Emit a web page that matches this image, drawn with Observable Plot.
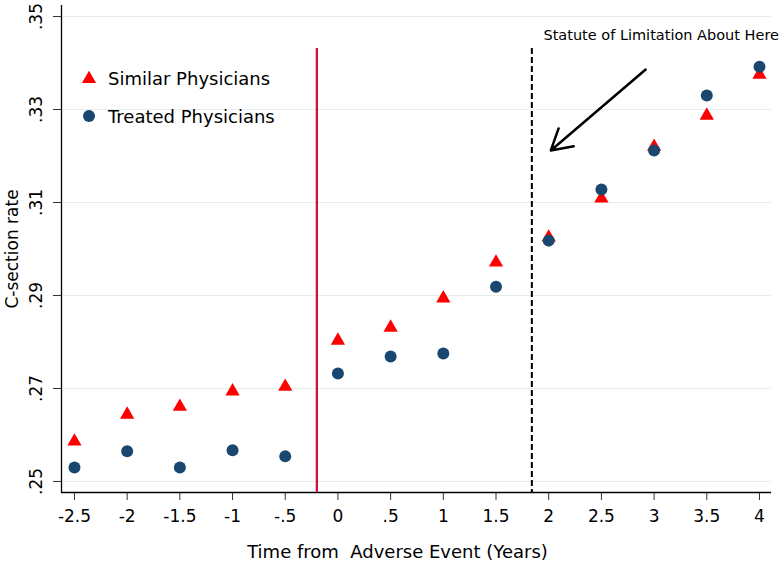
<!DOCTYPE html>
<html>
<head>
<meta charset="utf-8">
<script src="https://cdn.jsdelivr.net/npm/d3@7"></script>
<script src="https://cdn.jsdelivr.net/npm/@observablehq/plot@0.6"></script>
<style>
  html, body { margin: 0; padding: 0; background: #fff; }
  #wrap { position: relative; width: 780px; height: 567px; font-family: "DejaVu Sans", sans-serif; }
  #legend { position: absolute; left: 78px; top: 59px; font-size: 18px; color: #000; }
  #legend .item { display: flex; align-items: center; height: 38px; }
  #legend svg { margin-right: 8px; }
</style>
</head>
<body>
<div id="wrap">
  <div id="chart"></div>
  <div id="legend"></div>
</div>
<script>
// ---- data ----
const years = [-2.5, -2, -1.5, -1, -0.5, 0, 0.5, 1, 1.5, 2, 2.5, 3, 3.5, 4];
const similar = [0.2586, 0.2644, 0.2661, 0.2694, 0.2704, 0.2803, 0.2831, 0.2894, 0.2971, 0.3025, 0.3109, 0.3220, 0.3287, 0.3375];
const treated = [0.2530, 0.2565, 0.2530, 0.2567, 0.2554, 0.2732, 0.2769, 0.2775, 0.2919, 0.3018, 0.3128, 0.3212, 0.3330, 0.3392];
const seriesNames = ["Similar Physicians", "Treated Physicians"];
const xTicks = [-2.5, -2, -1.5, -1, -0.5, 0, 0.5, 1, 1.5, 2, 2.5, 3, 3.5, 4];
const yTicks = [0.25, 0.27, 0.29, 0.31, 0.33, 0.35];
const xLabel = "Time from  Adverse Event (Years)";
const yLabel = "C-section rate";
const eventLine = [-0.2];
const statuteLine = [1.84];
const annotationText = ["Statute of Limitation About Here"];
const annotationAt = [{x: 1.95, y: 0.3459}];
const arrowFrom = [{x: 2.92, y: 0.3386}];
const arrowTo = [{x: 2.02, y: 0.3212}];

const simData = years.map((x, i) => ({x, y: similar[i]}));
const trtData = years.map((x, i) => ({x, y: treated[i]}));
const arrowData = arrowFrom.map((a, i) => ({x1: a.x, y1: a.y, x2: arrowTo[i].x, y2: arrowTo[i].y}));

const fmt = d => {
  let s = String(+d.toFixed(2));
  return s.replace(/^0\./, ".").replace(/^-0\./, "-.");
};

const xDomain = [-2.623, 4.114];
const yDomain = [0.24763, 0.35237];
const lineTop = 0.3431;

const RED = "#ff0000";
const NAVY = "#1a476f";
const FONT = "DejaVu Sans, sans-serif";

const chart = Plot.plot({
  width: 780,
  height: 567,
  marginLeft: 61,
  marginRight: 9,
  marginTop: 5,
  marginBottom: 75,
  style: {fontFamily: FONT, background: "#fff", fontSize: "17px"},
  x: {domain: xDomain},
  y: {domain: yDomain},
  marks: [
    Plot.gridY(yTicks, {stroke: "#e4eeee", strokeOpacity: 1, strokeWidth: 1.2}),
    Plot.axisX(xTicks, {tickFormat: fmt, tickSize: 8, tickPadding: 9, fontSize: 17, stroke: "#333", label: null, color: "#000"}),
    Plot.text([xLabel], {frameAnchor: "bottom", text: d => d, dx: -19, dy: 65, fontSize: 18, fill: "#000"}),
    Plot.axisY(yTicks, {tickFormat: fmt, tickSize: 8, tickRotate: -90, tickPadding: 12, fontSize: 17, stroke: "#333", label: yLabel, labelAnchor: "center", labelArrow: "none", labelOffset: 56, color: "#000"}),
    Plot.ruleX([xDomain[0]], {stroke: "#000", strokeWidth: 1.3}),
    Plot.ruleY([yDomain[0]], {stroke: "#000", strokeWidth: 1.3}),
    Plot.ruleX(eventLine, {y1: lineTop, y2: yDomain[0], stroke: "#d0103c", strokeWidth: 2.3}),
    Plot.ruleX(statuteLine, {y1: lineTop, y2: yDomain[0], stroke: "#000", strokeWidth: 2, strokeDasharray: "6,3"}),
    Plot.dot(simData, {x: "x", y: "y", symbol: "triangle", r: 5.3, fill: RED, stroke: "none"}),
    Plot.dot(trtData, {x: "x", y: "y", symbol: "circle", r: 6, fill: NAVY, stroke: "none"}),
    Plot.text(annotationText, {x: annotationAt.map(d => d.x), y: annotationAt.map(d => d.y), text: d => d, textAnchor: "start", fontSize: 14.5, fill: "#000"}),
    Plot.arrow(arrowData, {x1: "x1", y1: "y1", x2: "x2", y2: "y2", stroke: "#000", strokeWidth: 2.5, headLength: 14})
  ]
});
document.getElementById("chart").appendChild(chart);

// legend
const legend = document.getElementById("legend");
const sym = [
  `<svg width="22" height="22"><path d="${d3.symbol(d3.symbolTriangle, Math.PI * 5.3 * 5.3)()}" transform="translate(11,12)" fill="${RED}"/></svg>`,
  `<svg width="22" height="22"><circle cx="11" cy="11" r="6" fill="${NAVY}"/></svg>`
];
seriesNames.forEach((n, i) => {
  const d = document.createElement("div");
  d.className = "item";
  d.innerHTML = sym[i] + `<span>${n}</span>`;
  legend.appendChild(d);
});
</script>
</body>
</html>
